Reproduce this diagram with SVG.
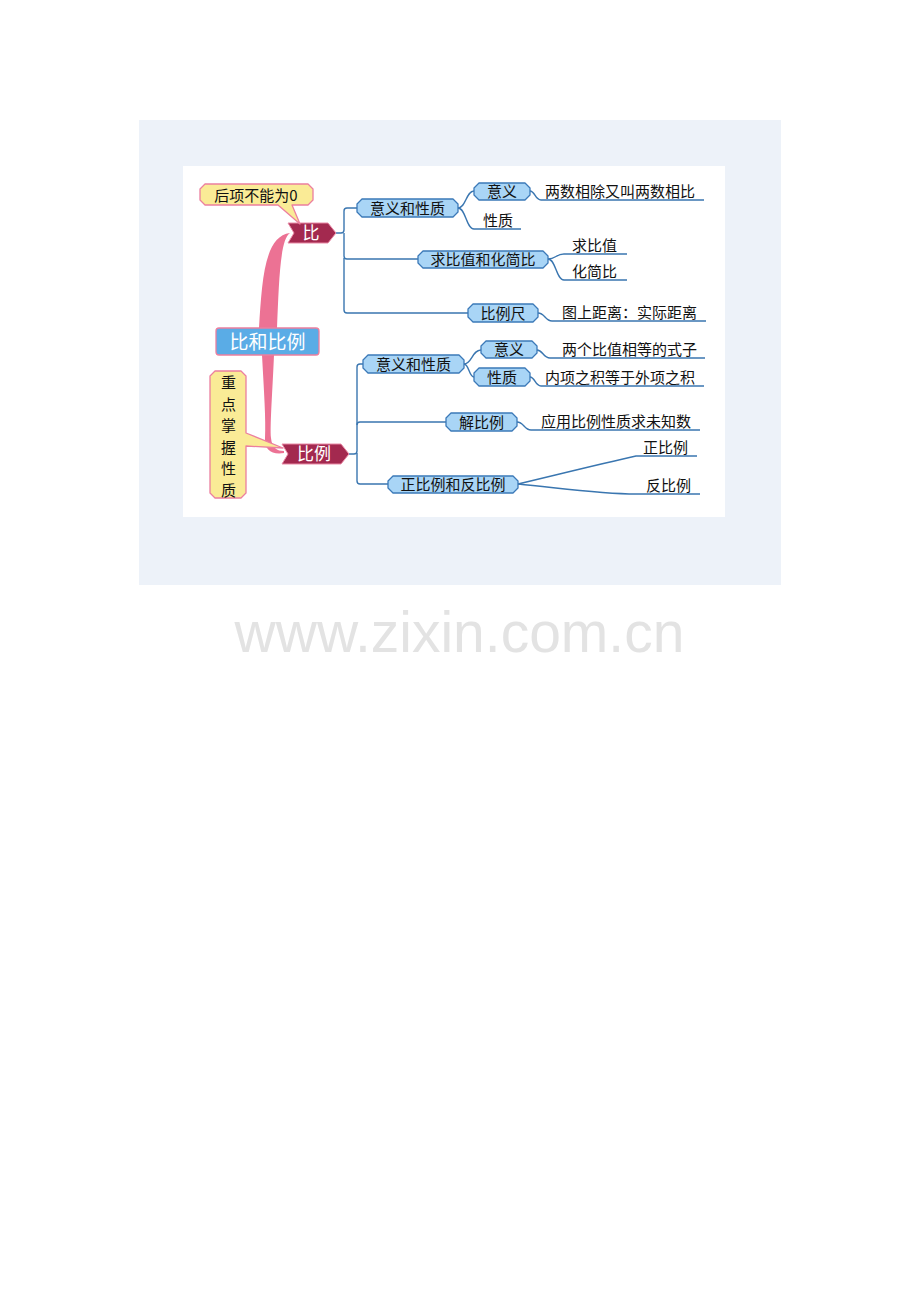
<svg xmlns="http://www.w3.org/2000/svg" width="920" height="1302" viewBox="0 0 920 1302">
<style>
.t{font-family:"Noto Sans CJK SC","Liberation Sans",sans-serif;font-size:15px;fill:#111}
.w{font-family:"Noto Sans CJK SC","Liberation Sans",sans-serif;fill:#fff}
.n{fill:#a9d5f6;stroke:#3b79b8;stroke-width:1.3;stroke-linejoin:round}
.m{fill:#a3294f;stroke:#e98aa6;stroke-width:1}
.c{fill:none;stroke:#3a76b0;stroke-width:1.4}
.y{fill:#faeb96;stroke:#ec7f9f;stroke-width:1.3;stroke-linejoin:round}
</style>
<rect x="139" y="120" width="642" height="465" fill="#edf2f9"/>
<rect x="183" y="166" width="542" height="351" fill="#fff"/>
<text x="459.5" y="652" text-anchor="middle" font-family="Liberation Sans,Arial,sans-serif" font-size="57" fill="#e3e3e3">www.zixin.com.cn</text>

<g id="connectors">
<path d="M259,328 C262,282 264,236 290,233 C280,239 279,282 277,328 Z" fill="#ec7294"/>
<path d="M262,355 L274,355 C272,400 270,425 271,438 C272,448 277,451 284,451 L284,453 C272,455 264,450 265,438 C266,420 264,392 262,355 Z" fill="#ec7294"/>
<path class="c" d="M336,233 H341 Q344,233 344,230 V211 Q344,208 347,208 H357"/>
<path class="c" d="M344,233 V256 Q344,259 347,259 H418"/>
<path class="c" d="M344,258 V310 Q344,313 347,313 H468"/>
<path class="c" d="M458,208 C466,208 466,191 474,191"/>
<path class="c" d="M458,208 C466,208 466,229 474,229 H521"/>
<path class="c" d="M530,191 C535,191 535,200 541,200 H704"/>
<path class="c" d="M548,259 C556,259 556,254 564,254 H627"/>
<path class="c" d="M548,259 C556,259 556,280 564,280 H627"/>
<path class="c" d="M538,313 C545,313 545,321 552,321 H706"/>
<path class="c" d="M349,454 H354 Q357,454 357,451 V367 Q357,364 360,364 H363"/>
<path class="c" d="M357,425 Q357,422 360,422 H446"/>
<path class="c" d="M357,453 V481 Q357,484 360,484 H388"/>
<path class="c" d="M464,364 C472,364 472,350 481,350"/>
<path class="c" d="M464,364 C469,364 469,377 474,377"/>
<path class="c" d="M537,350 C543,350 543,358 550,358 H705"/>
<path class="c" d="M530,377 C535,377 535,386 541,386 H704"/>
<path class="c" d="M517,422 C524,422 524,430 531,430 H700"/>
<path class="c" d="M518,484 C560,474 600,464 636,456 H697"/>
<path class="c" d="M518,484 C560,488 600,494 636,494 H700"/>
</g>

<g id="root">
<rect x="216" y="328" width="103" height="27" rx="3" fill="#5aace6" stroke="#ec7f9f" stroke-width="1.3"/>
<text class="w" x="267.5" y="348.5" text-anchor="middle" font-size="19">比和比例</text>
</g>
<g id="n-bi">
<path class="m" d="M288,223 H328 L336,233 L328,243 H288 L294,233 Z"/>
<text class="w" x="311" y="239" text-anchor="middle" font-size="17">比</text>
</g>
<g id="n-bili">
<path class="m" d="M282,444 H341 L349,454 L341,464 H282 L288,454 Z"/>
<text class="w" x="314" y="460" text-anchor="middle" font-size="17">比例</text>
</g>
<g id="note1">
<path class="y" d="M205,184 H308 L313,189 V200 L308,205 H292 L300,224 L278,205 H205 L200,200 V189 Z"/>
<text class="t" x="256" y="200.5" text-anchor="middle" font-size="15.5">后项不能为0</text>
</g>
<g id="note2">
<path class="y" d="M215,371 H241 L246,376 V433 L283,448 L246,446 V493 L241,498 H215 L210,493 V376 Z"/>
<g class="t" font-size="16" text-anchor="middle">
<text x="228.5" y="388">重</text>
<text x="228.5" y="410">点</text>
<text x="228.5" y="431">掌</text>
<text x="228.5" y="453">握</text>
<text x="228.5" y="474">性</text>
<text x="228.5" y="496">质</text>
</g>
</g>

<g id="n1">
<path class="n" d="M362,199 H453 L458,204 V212 L453,217 H362 L357,212 V204 Z"/>
<text class="t" x="407.5" y="213.5" text-anchor="middle">意义和性质</text>
</g>
<g id="n1a">
<path class="n" d="M479,183 H525 L530,188 V195 L525,200 H479 L474,195 V188 Z"/>
<text class="t" x="502" y="196.5" text-anchor="middle">意义</text>
</g>
<text class="t" x="545" y="197">两数相除又叫两数相比</text>
<text class="t" x="483" y="226">性质</text>
<g id="n2">
<path class="n" d="M423,251 H543 L548,256 V263 L543,268 H423 L418,263 V256 Z"/>
<text class="t" x="483" y="264.5" text-anchor="middle">求比值和化简比</text>
</g>
<text class="t" x="572" y="251">求比值</text>
<text class="t" x="572" y="277">化简比</text>
<g id="n3">
<path class="n" d="M473,304 H533 L538,309 V317 L533,322 H473 L468,317 V309 Z"/>
<text class="t" x="503" y="318.5" text-anchor="middle">比例尺</text>
</g>
<text class="t" x="562" y="318">图上距离：实际距离</text>

<g id="n4">
<path class="n" d="M368,355 H459 L464,360 V368 L459,373 H368 L363,368 V360 Z"/>
<text class="t" x="413.5" y="369.5" text-anchor="middle">意义和性质</text>
</g>
<g id="n4a">
<path class="n" d="M486,341 H532 L537,346 V353 L532,358 H486 L481,353 V346 Z"/>
<text class="t" x="509" y="355" text-anchor="middle">意义</text>
</g>
<text class="t" x="562" y="355">两个比值相等的式子</text>
<g id="n4b">
<path class="n" d="M479,368 H525 L530,373 V381 L525,386 H479 L474,381 V373 Z"/>
<text class="t" x="502" y="382.5" text-anchor="middle">性质</text>
</g>
<text class="t" x="545" y="383">内项之积等于外项之积</text>
<g id="n5">
<path class="n" d="M451,413 H512 L517,418 V426 L512,431 H451 L446,426 V418 Z"/>
<text class="t" x="481.5" y="427.5" text-anchor="middle">解比例</text>
</g>
<text class="t" x="541" y="427">应用比例性质求未知数</text>
<g id="n6">
<path class="n" d="M393,476 H513 L518,481 V488 L513,493 H393 L388,488 V481 Z"/>
<text class="t" x="453" y="489.5" text-anchor="middle">正比例和反比例</text>
</g>
<text class="t" x="643" y="453">正比例</text>
<text class="t" x="646" y="491">反比例</text>
</svg>
